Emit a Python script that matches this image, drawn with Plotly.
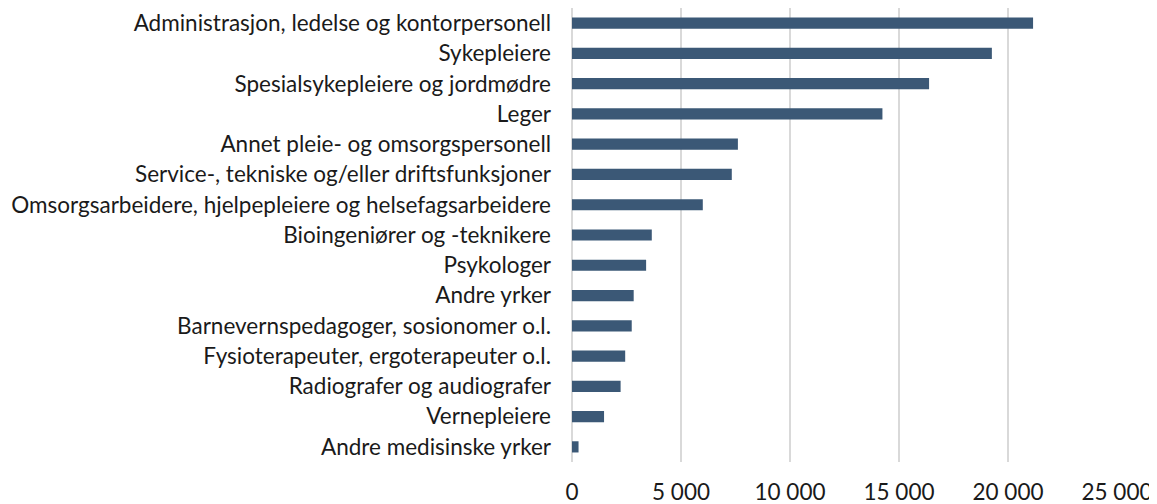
import plotly.graph_objects as go

categories = [
    "Administrasjon, ledelse og kontorpersonell",
    "Sykepleiere",
    "Spesialsykepleiere og jordmødre",
    "Leger",
    "Annet pleie- og omsorgspersonell",
    "Service-, tekniske og/eller driftsfunksjoner",
    "Omsorgsarbeidere, hjelpepleiere og helsefagsarbeidere",
    "Bioingeniører og -teknikere",
    "Psykologer",
    "Andre yrker",
    "Barnevernspedagoger, sosionomer o.l.",
    "Fysioterapeuter, ergoterapeuter o.l.",
    "Radiografer og audiografer",
    "Vernepleiere",
    "Andre medisinske yrker",
]
values = [21150, 19260, 16380, 14240, 7610, 7330, 6000, 3660, 3400, 2830, 2740, 2440, 2230, 1470, 300]

tick_vals = [0, 5000, 10000, 15000, 20000, 25000]
tick_text = ["0", "5 000", "10 000", "15 000", "20 000", "25 000"]

fig = go.Figure(go.Bar(
    y=categories, x=values, orientation="h",
    marker=dict(color="#3b5876", line=dict(width=0)),
))

fig.update_layout(
    width=1149, height=496,
    margin=dict(l=564, r=40, t=0, b=42),
    paper_bgcolor="white", plot_bgcolor="white",
    bargap=0.63,
    showlegend=False,
    font=dict(family="Lato, Carlito, Calibri, sans-serif", size=22.5, color="#1a1a1a"),
)
fig.update_yaxes(
    autorange="reversed", ticks="", ticklabelstandoff=20,
    showgrid=False, showline=False, automargin=False,
)
fig.update_xaxes(
    range=[0, 25000], tickvals=tick_vals, ticktext=tick_text,
    showgrid=True, gridcolor="#d9d9d9", gridwidth=1.5,
    zeroline=True, zerolinecolor="#d9d9d9", zerolinewidth=1.5,
    showline=False, ticks="", ticklabelstandoff=14, automargin=False,
)

fig.write_html("out.html")
